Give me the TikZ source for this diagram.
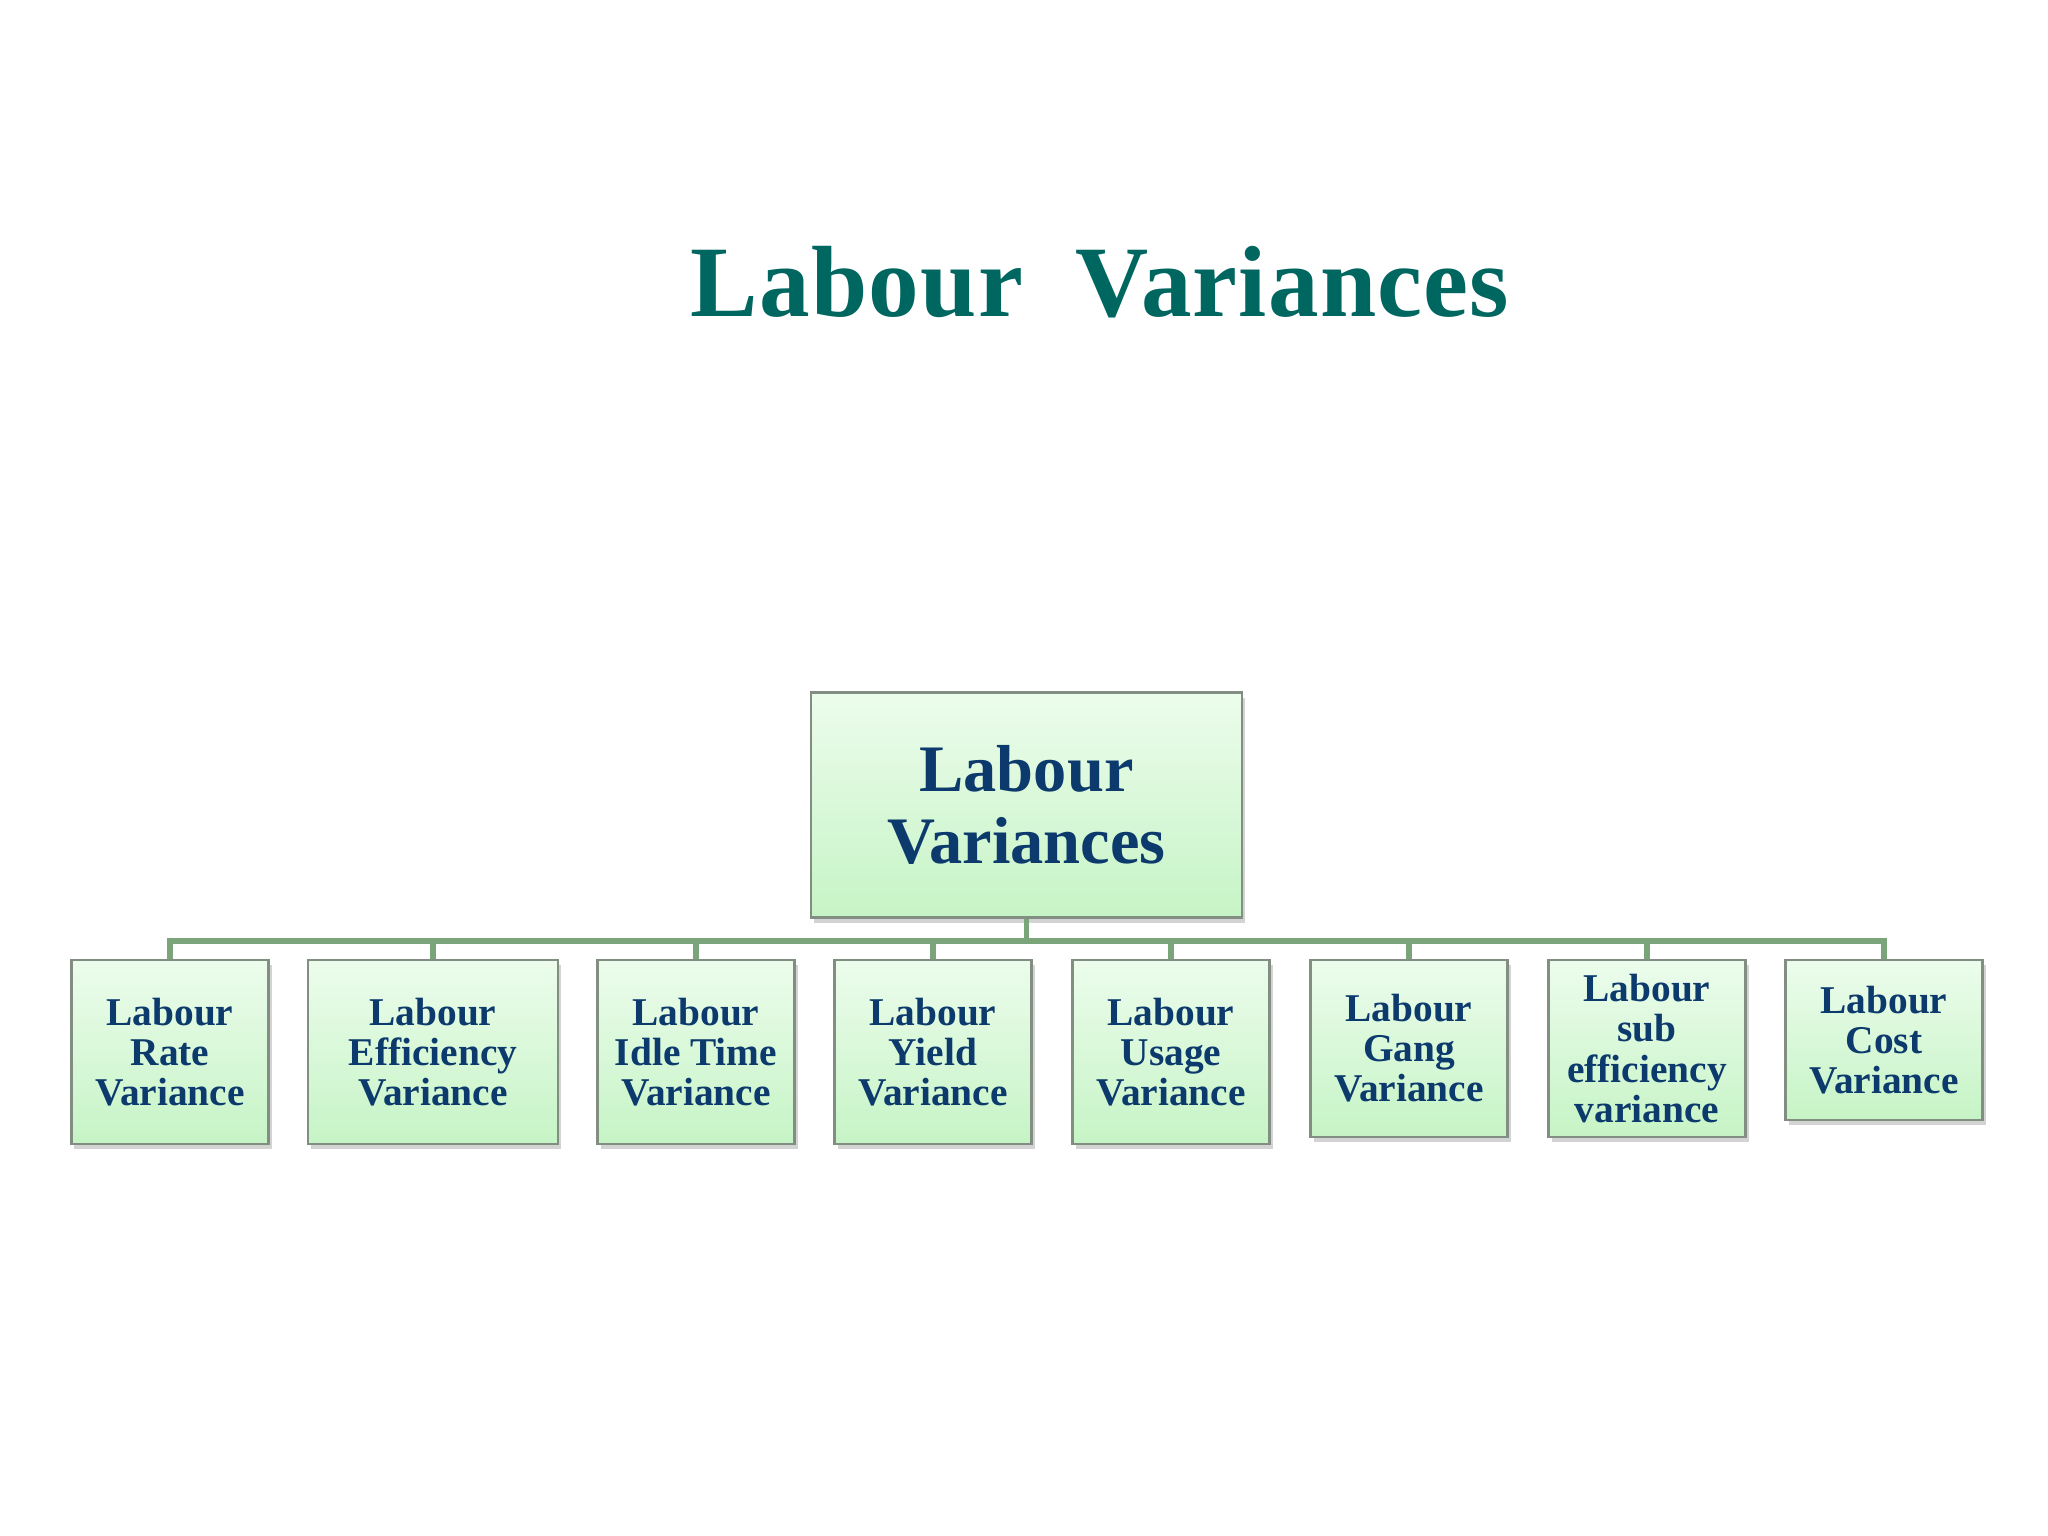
\documentclass[tikz,border=0pt]{standalone}
\usepackage{fontspec}
\setmainfont{Liberation Serif}
\usetikzlibrary{shadows}
\definecolor{titleteal}{RGB}{0,102,96}
\definecolor{boxtext}{RGB}{12,58,108}
\definecolor{boxtop}{RGB}{236,252,236}
\definecolor{boxbottom}{RGB}{198,244,198}
\definecolor{boxline}{RGB}{130,142,130}
\definecolor{linkgreen}{RGB}{122,164,122}

\begin{document}
\begin{tikzpicture}[
  kid/.style={draw=boxline, line width=0.6pt, top color=boxtop, bottom color=boxbottom,
    text=boxtext, align=center, inner sep=0pt, minimum width=1.97cm, anchor=north,
    font=\fontsize{11.2}{11.4}\selectfont\bfseries,
    drop shadow={shadow xshift=0.03cm, shadow yshift=-0.05cm, opacity=0.35}},
  link/.style={draw=linkgreen, line width=1.7pt}]
  \useasboundingbox (0,0) rectangle (20.48,-15.36);

  % Title
  \node[text=titleteal, anchor=base, font=\fontsize{28.8}{30}\selectfont\bfseries\addfontfeature{LetterSpace=1.2}] (title) at (11.00,-3.17) {Labour\ \ Variances};

  % Nodes
  \node[kid, anchor=center, minimum width=4.31cm, minimum height=2.25cm,
    font=\fontsize{18.9}{20.5}\selectfont\bfseries] (labour) at (10.265,-8.05) {Labour\\Variances};
  \node[kid, minimum height=1.84cm] (rate) at (1.70,-9.59) {Labour\\Rate\\Variance};
  \node[kid, minimum width=2.50cm, minimum height=1.84cm] (efficiency) at (4.33,-9.59) {Labour\\Efficiency\\Variance};
  \node[kid, minimum height=1.84cm] (idle) at (6.96,-9.59) {Labour\\Idle Time\\Variance};
  \node[kid, minimum height=1.84cm] (yield) at (9.33,-9.59) {Labour\\Yield\\Variance};
  \node[kid, minimum height=1.84cm] (usage) at (11.71,-9.59) {Labour\\Usage\\Variance};
  \node[kid, minimum height=1.77cm] (gang) at (14.09,-9.59) {Labour\\Gang\\Variance};
  \node[kid, minimum height=1.77cm] (subeff) at (16.47,-9.59) {Labour\\sub\\efficiency\\variance};
  \node[kid, minimum height=1.60cm] (cost) at (18.84,-9.59) {Labour\\Cost\\Variance};

  % Connectors
  \foreach \k in {rate,efficiency,idle,yield,usage,gang,subeff,cost}
    \draw[link] (labour.south) -- ++(0,-0.22) -| (\k.north);
\end{tikzpicture}
\end{document}
